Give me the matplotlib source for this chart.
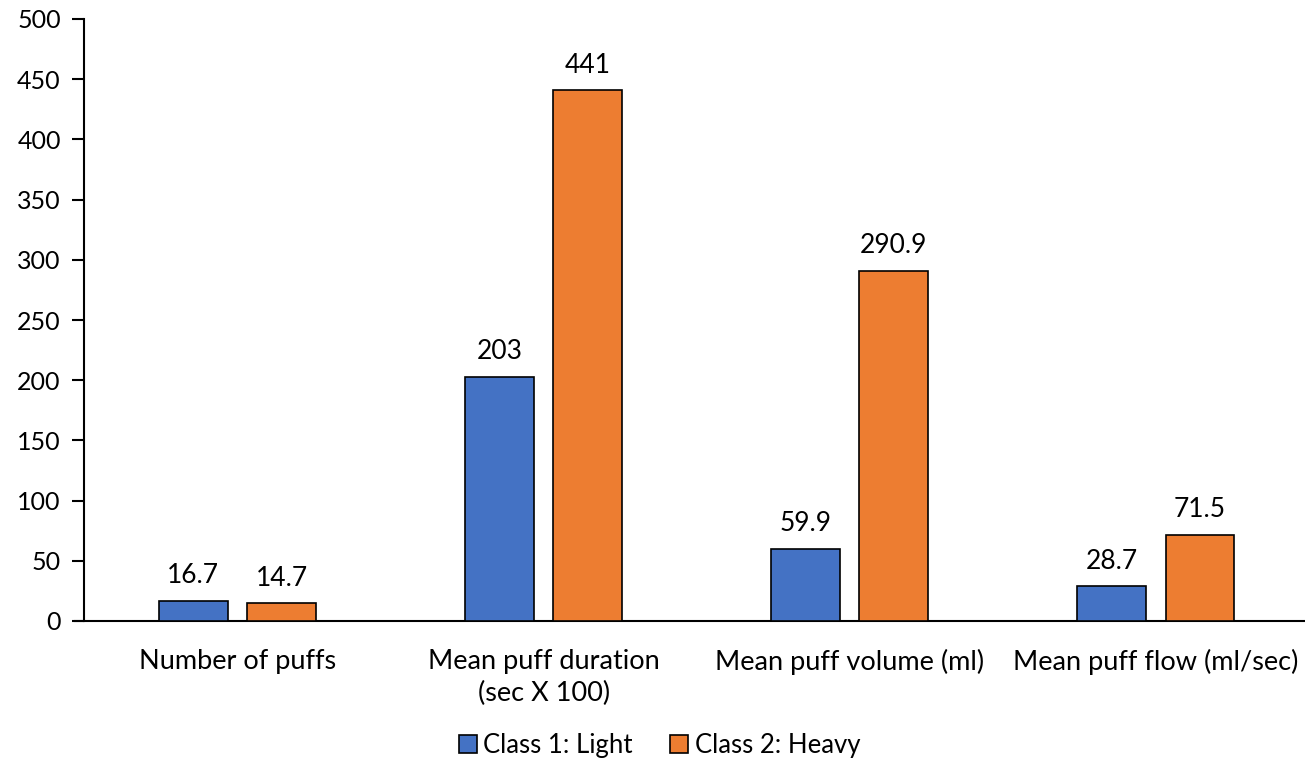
import matplotlib
matplotlib.use("Agg")
import matplotlib.pyplot as plt
import numpy as np

categories = ["Number of puffs", "Mean puff duration\n(sec X 100)",
              "Mean puff volume (ml)", "Mean puff flow (ml/sec)"]
light = [16.7, 203, 59.9, 28.7]
heavy = [14.7, 441, 290.9, 71.5]
light_labels = ["16.7", "203", "59.9", "28.7"]
heavy_labels = ["14.7", "441", "290.9", "71.5"]
series_names = ["Class 1: Light", "Class 2: Heavy"]
yticks = [0, 50, 100, 150, 200, 250, 300, 350, 400, 450, 500]

plt.rcParams["font.family"] = ["Lato", "DejaVu Sans"]

W, H = 1305, 761
fig = plt.figure(figsize=(W / 100, H / 100), dpi=100)
left_px, right_px, top_px, bottom_px = 84.4, 1309, 19, 621
ax = fig.add_axes([left_px / W, 1 - bottom_px / H,
                   (right_px - left_px) / W, (bottom_px - top_px) / H])

x = np.arange(len(categories))
w = 0.225
off = 0.144
b1 = ax.bar(x - off, light, w, color="#4472C4", edgecolor="black", linewidth=1.2,
            label=series_names[0], zorder=3)
b2 = ax.bar(x + off, heavy, w, color="#ED7D31", edgecolor="black", linewidth=1.2,
            label=series_names[1], zorder=3)
ax.bar_label(b1, labels=light_labels, padding=9, fontsize=19)
ax.bar_label(b2, labels=heavy_labels, padding=9, fontsize=19)

ax.set_xlim(-0.5, len(categories) - 0.5)
ax.set_ylim(0, 500)
ax.set_yticks(yticks)
ax.set_xticks(x)
ax.set_xticklabels(categories, fontsize=19.5, linespacing=1.38)
ax.tick_params(axis="x", length=0, pad=20)
ax.tick_params(axis="y", length=9, width=1.5, labelsize=18, pad=8, direction="out")

for s in ["top", "right"]:
    ax.spines[s].set_visible(False)
for s in ["left", "bottom"]:
    ax.spines[s].set_linewidth(1.5)
ax.spines["bottom"].set_bounds(-0.5 - 9 / 306, len(categories) - 0.5)

handles, labels = ax.get_legend_handles_labels()
fig.legend(handles, labels, loc="center", bbox_to_anchor=(659.5 / W, 1 - 745 / H),
           ncol=2, frameon=False, fontsize=18.5, handlelength=0.7, handleheight=0.7,
           handletextpad=0.25, columnspacing=1.45)

fig.savefig("out.png", dpi=100)
